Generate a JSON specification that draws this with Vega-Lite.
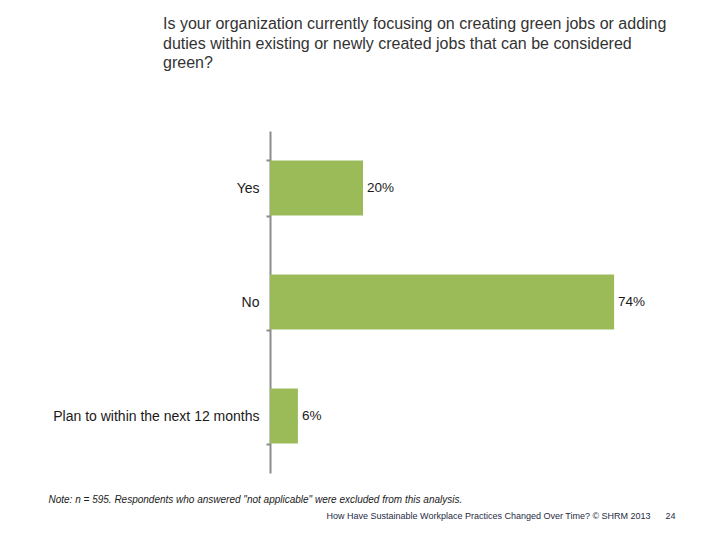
{
  "$schema": "https://vega.github.io/schema/vega-lite/v6.json",
  "width": 465,
  "height": 342,
  "autosize": {"type": "none"},
  "padding": {"left": 270, "top": 131, "right": 0, "bottom": 67},
  "background": "white",
  "config": {
    "view": {"stroke": null},
    "font": "Liberation Sans"
  },
  "title": {
    "text": ["Is your organization currently focusing on creating green jobs or adding", "duties within existing or newly created jobs that can be considered", "green?"],
    "anchor": "start",
    "frame": "group",
    "dx": -107,
    "fontSize": 16,
    "fontWeight": "normal",
    "font": "Liberation Sans",
    "color": "#333333",
    "lineHeight": 19.5,
    "offset": 53
  },
  "data": {
    "values": [
      {"answer": "Yes", "pct": 0.20},
      {"answer": "No", "pct": 0.74},
      {"answer": "Plan to within the next 12 months", "pct": 0.06}
    ]
  },
  "encoding": {
    "y": {
      "field": "answer",
      "type": "nominal",
      "sort": null,
      "scale": {"paddingInner": 0.5175, "paddingOuter": 0.25875},
      "axis": {
        "title": "How Have Sustainable Workplace Practices Changed Over Time? © SHRM 2013\u00a0\u00a0\u00a0\u00a0\u00a0\u00a024",
        "titleAngle": 0,
        "titleX": 56,
        "titleY": 387,
        "titleAlign": "left",
        "titleBaseline": "alphabetic",
        "titleFontSize": 9,
        "titleFontWeight": "normal",
        "titleColor": "#1f2a44",
        "titleFont": "Liberation Sans",
        "tickBand": "extent",
        "domainColor": "#8c8c8c",
        "domainWidth": 2,
        "tickColor": "#8c8c8c",
        "tickWidth": 2,
        "tickSize": 4,
        "labelPadding": 7,
        "labelFontSize": 14,
        "labelColor": "#1a1a1a",
        "labelFont": "Liberation Sans",
        "labelLimit": 400
      }
    },
    "x": {
      "field": "pct",
      "type": "quantitative",
      "scale": {"domain": [0, 1]},
      "axis": {
        "title": "Note: n = 595. Respondents who answered \"not applicable\" were excluded from this analysis.",
        "domain": false,
        "ticks": false,
        "labels": false,
        "grid": false,
        "titleX": -222,
        "titleY": 29,
        "titleAnchor": "start",
        "titleAlign": "left",
        "titleBaseline": "alphabetic",
        "titleFontSize": 10,
        "titleFontStyle": "italic",
        "titleFontWeight": "normal",
        "titleColor": "#1a1a1a",
        "titleFont": "Liberation Sans"
      }
    }
  },
  "layer": [
    {"mark": {"type": "bar", "color": "#9bbb59"}},
    {
      "mark": {"type": "text", "align": "left", "baseline": "middle", "dx": 4, "fontSize": 13.5, "color": "#1a1a1a", "font": "Liberation Sans"},
      "encoding": {"text": {"field": "pct", "type": "quantitative", "format": ".0%"}}
    }
  ]
}
